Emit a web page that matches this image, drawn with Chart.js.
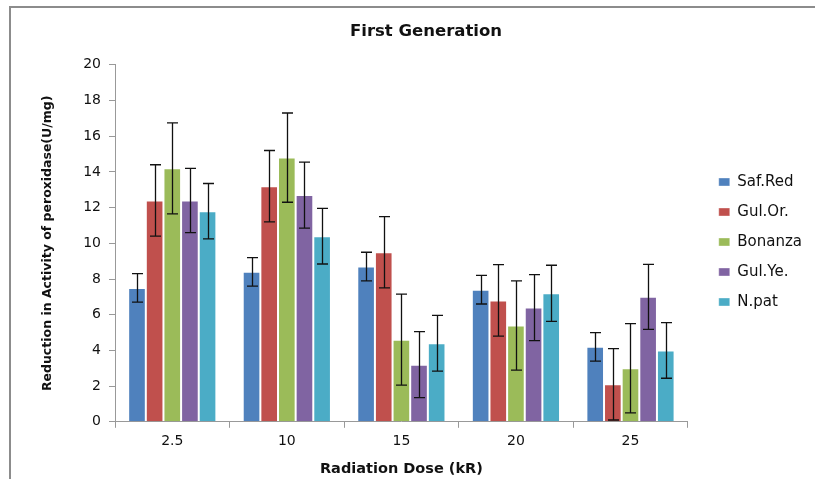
<!DOCTYPE html>
<html>
<head>
<meta charset="utf-8">
<script src="https://cdn.jsdelivr.net/npm/chart.js@4"></script>
<style>
  body { margin: 0; background: #fff; overflow: hidden; }
  #wrap { position: relative; width: 815px; height: 479px; overflow: hidden; }
  #frame { position: absolute; left: 9px; top: 6px; width: 900px; height: 600px; border: 2px solid #8c8c8c; }
  #c { position: absolute; left: 0; top: 0; }
</style>
</head>
<body>
<div id="wrap">
  <div id="frame"></div>
  <canvas id="c" width="815" height="479"></canvas>
</div>
<script>
// doses on the x axis
const doses = ["2.5", "10", "15", "20", "25"];

// mean reduction in peroxidase activity (U/mg)
const safRed  = [7.5, 8.4, 8.7, 7.4, 4.2];
const gulOr   = [12.4, 13.2, 9.5, 6.8, 2.1];
const bonanza = [14.2, 14.8, 4.6, 5.4, 3.0];
const gulYe   = [12.4, 12.7, 3.2, 6.4, 7.0];
const nPat    = [11.8, 10.4, 4.4, 7.2, 4.0];

// error bar half-lengths
const safRedErr  = [0.8, 0.8, 0.8, 0.8, 0.8];
const gulOrErr   = [2.0, 2.0, 2.0, 2.0, 2.0];
const bonanzaErr = [2.55, 2.5, 2.55, 2.5, 2.5];
const gulYeErr   = [1.8, 1.85, 1.85, 1.85, 1.82];
const nPatErr    = [1.55, 1.56, 1.56, 1.57, 1.56];

const FONT = "DejaVu Sans";

const errorBars = {
    id: "errorBars",
    afterDatasetsDraw(chart) {
        const ctx = chart.ctx;
        const y = chart.scales.y;
        ctx.save();
        ctx.strokeStyle = "#111";
        ctx.lineWidth = 1.3;
        chart.data.datasets.forEach((ds, i) => {
            const meta = chart.getDatasetMeta(i);
            meta.data.forEach((bar, j) => {
                const v = ds.data[j], e = ds.errors[j];
                const top = y.getPixelForValue(v + e);
                const bot = y.getPixelForValue(Math.max(0, v - e));
                const x = Math.round(bar.x) + 0.5;
                ctx.beginPath();
                ctx.moveTo(x, top); ctx.lineTo(x, bot);
                ctx.moveTo(x - 5.5, top); ctx.lineTo(x + 5.5, top);
                ctx.moveTo(x - 5.5, bot); ctx.lineTo(x + 5.5, bot);
                ctx.stroke();
            });
        });
        ctx.restore();
    }
};

function series(label, data, errors, color) {
    return { label: label, data: data, errors: errors, backgroundColor: color,
             borderColor: "rgba(255,255,255,0.35)", borderWidth: 1,
             categoryPercentage: 0.77, barPercentage: 1.0 };
}

new Chart(document.getElementById("c").getContext("2d"), {
    type: "bar",
    data: {
        labels: doses,
        datasets: [
            series("Saf.Red", safRed, safRedErr, "#4F81BD"),
            series("Gul.Or.", gulOr, gulOrErr, "#C0504D"),
            series("Bonanza", bonanza, bonanzaErr, "#9BBB59"),
            series("Gul.Ye.", gulYe, gulYeErr, "#8064A2"),
            series("N.pat", nPat, nPatErr, "#4BACC6")
        ]
    },
    options: {
        responsive: false,
        animation: false,
        layout: { padding: { left: 40, right: 3, top: 6, bottom: 1 } },
        plugins: {
            title: {
                display: true, text: "First Generation", color: "#111",
                font: { family: FONT, size: 16.5, weight: "bold" },
                padding: { top: 16, bottom: 23 }
            },
            legend: {
                position: "right",
                labels: {
                    color: "#111", font: { family: FONT, size: 15 },
                    boxWidth: 11, boxHeight: 8, padding: 15
                }
            },
            tooltip: { enabled: false }
        },
        scales: {
            x: {
                grid: { drawOnChartArea: false, offset: true, color: "#999", tickLength: 6 },
                border: { color: "#999" },
                ticks: { color: "#111", font: { family: FONT, size: 14 }, padding: 5 },
                title: { display: true, text: "Radiation Dose (kR)", color: "#111",
                         font: { family: FONT, size: 14.5, weight: "bold" }, padding: { top: 6, bottom: 0 } }
            },
            y: {
                min: 0, max: 20,
                afterFit(s) { s.width = 75; },
                grid: { drawOnChartArea: false, color: "#999", tickLength: 6 },
                border: { color: "#999" },
                ticks: { stepSize: 2, color: "#111", font: { family: FONT, size: 14 }, padding: 8 },
                title: { display: true, text: "Reduction in Activity of peroxidase(U/mg)", color: "#111",
                         font: { family: FONT, size: 12.5, weight: "bold" }, padding: { top: 0, bottom: 0 } }
            },
            gap: {
                position: "right",
                afterFit(s) { s.width = 16; },
                grid: { display: false },
                border: { display: false },
                ticks: { display: false }
            }
        }
    },
    plugins: [errorBars]
});
</script>
</body>
</html>
